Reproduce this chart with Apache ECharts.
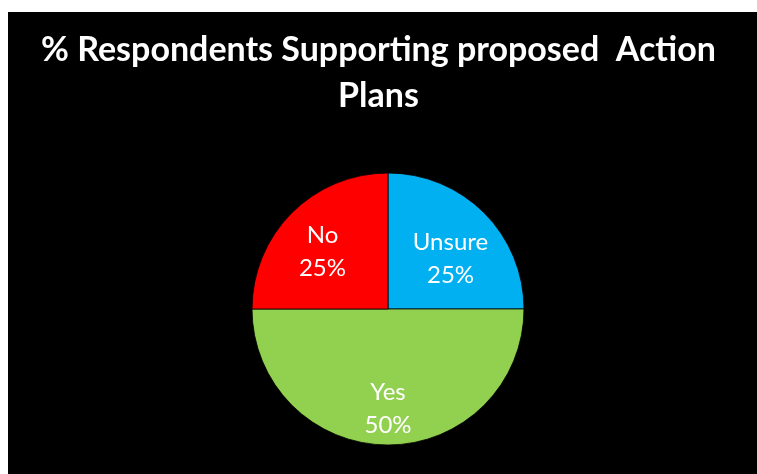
<!DOCTYPE html>
<html>
<head>
<meta charset="utf-8">
<script src="https://cdn.jsdelivr.net/npm/echarts@6/dist/echarts.min.js"></script>
<style>
html,body{margin:0;padding:0;background:#fff;}
#chart{width:757px;height:474px;}
</style>
</head>
<body>
<div id="chart"></div>
<script>
const titleText = '% Respondents Supporting proposed  Action\nPlans';
const categories = ['Unsure', 'Yes', 'No'];
const values = [25, 50, 25];

const colors = ['#00B0F0', '#92D050', '#FF0000'];
const labelNudges = [[-5, 17], [0, 4], [2, 10]];

const chart = echarts.init(document.getElementById('chart'));
const center = [388, 309];
const R = 136;
const data = categories.map((c, i) => ({ name: c, value: values[i], itemStyle: { color: colors[i] } }));
const labelData = categories.map((c, i) => ({ name: c, value: values[i], label: { offset: labelNudges[i] } }));

chart.setOption({
  backgroundColor: '#ffffff',
  animation: false,
  graphic: [{
    type: 'rect', z: -10, silent: true,
    shape: { x: 8, y: 12, width: 749, height: 462 },
    style: { fill: '#000000' }
  }],
  title: {
    text: titleText,
    left: 'center',
    top: 22,
    textStyle: {
      color: '#ffffff', fontFamily: 'Lato', fontWeight: 'bold',
      fontSize: 34, lineHeight: 46
    }
  },
  series: [{
    type: 'pie',
    center: center,
    radius: [0, R],
    startAngle: 90,
    clockwise: true,
    silent: true,
    label: { show: false },
    labelLine: { show: false },
    itemStyle: { borderColor: '#000', borderWidth: 0.8 },
    data: data
  }, {
    type: 'pie',
    center: center,
    radius: [0, R * 1.36],
    startAngle: 90,
    clockwise: true,
    silent: true,
    itemStyle: { color: 'rgba(0,0,0,0)', borderWidth: 0 },
    label: {
      show: true, position: 'inside',
      formatter: p => p.name + '\n' + p.percent.toFixed(0) + '%',
      color: '#ffffff', fontFamily: 'Lato', fontSize: 24, lineHeight: 33
    },
    labelLine: { show: false },
    data: labelData
  }]
});
</script>
</body>
</html>
